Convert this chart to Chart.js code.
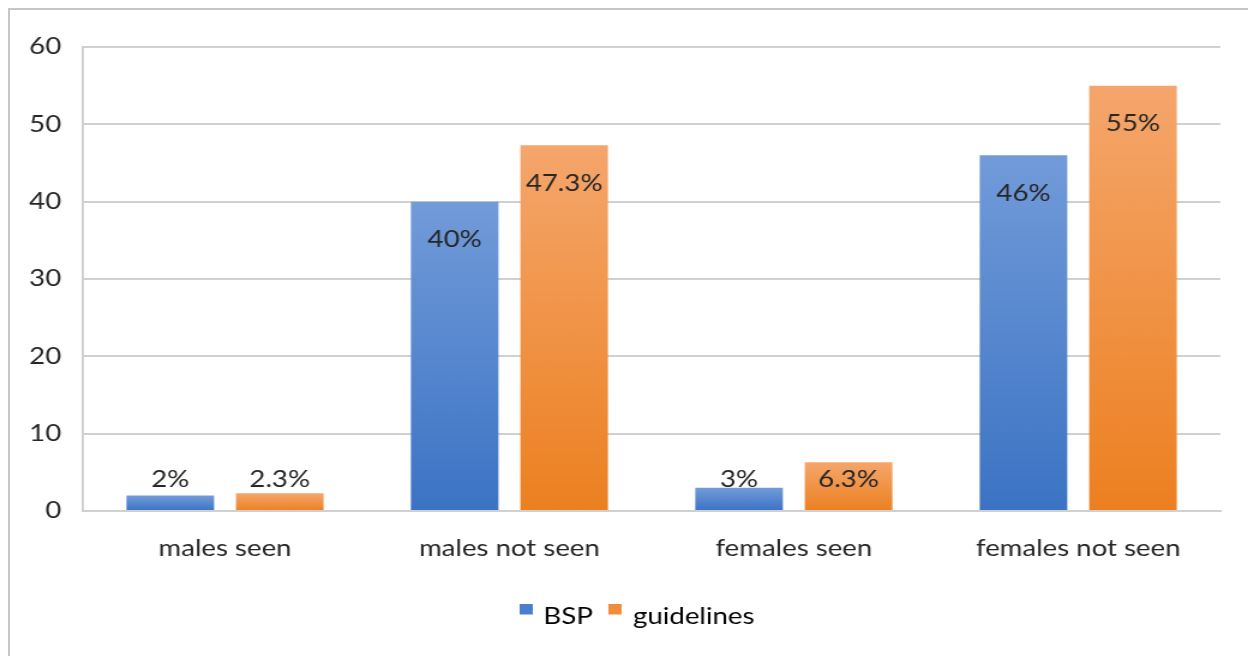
<!DOCTYPE html>
<html>
<head>
<meta charset="utf-8">
<title>BSP vs guidelines</title>
<script src="https://cdn.jsdelivr.net/npm/chart.js@4.4.1/dist/chart.umd.min.js"></script>
<style>
    html, body {
        margin: 0;
        padding: 0;
        background: #ffffff;
        overflow: hidden;
    }
    #wrap {
        position: relative;
        width: 1248px;
        height: 656px;
    }
    /* chart frame: only the top and left edges are inside the view */
    #frame {
        position: absolute;
        left: 8px;
        top: 8px;
        width: 1260px;
        height: 660px;
        border-left: 2px solid #c6c6c6;
        border-top: 2px solid #c6c6c6;
        box-sizing: border-box;
    }
    /* the chart is laid out at 1040px and widened to 1248px */
    #chart {
        position: absolute;
        left: 0;
        top: 0;
        transform-origin: 0 0;
        transform: scaleX(1.2);
    }
</style>
</head>
<body>
<div id="wrap">
    <div id="frame"></div>
    <canvas id="chart" width="1040" height="656"></canvas>
</div>
<script>
    // ===== DATA =====
    const categories = ['males seen', 'males not seen', 'females seen', 'females not seen'];
    const bspValues = [2, 40, 3, 46];
    const guidelineValues = [2.3, 47.3, 6.3, 55];
    const yTicks = [0, 10, 20, 30, 40, 50, 60];

    const FONT = 'Lato, "Open Sans", sans-serif';
    const TEXT = '#262626';

    // vertical gradient for each bar, light at the top, deep at the base
    function barGradient(light, dark) {
        return function(context) {
            const chart = context.chart;
            if (!chart.chartArea || context.raw == null) return dark;
            const y = chart.scales.y;
            const top = y.getPixelForValue(context.raw);
            const base = y.getPixelForValue(0);
            if (base - top < 1) return dark;
            const g = chart.ctx.createLinearGradient(0, top, 0, base);
            g.addColorStop(0, light);
            g.addColorStop(1, dark);
            return g;
        };
    }

    // legend marker: small square sitting high, level with the cap height
    function legendMarker(color) {
        const c = document.createElement('canvas');
        c.width = 11;
        c.height = 26;
        const g = c.getContext('2d');
        g.fillStyle = color;
        g.fillRect(0, 0, 11, 11);
        return c;
    }

    // value labels: inside the top of tall bars, pushed up over short ones
    const valueLabels = {
        id: 'valueLabels',
        afterDatasetsDraw(chart) {
            const ctx = chart.ctx;
            ctx.save();
            ctx.font = '23px ' + FONT;
            ctx.fillStyle = TEXT;
            ctx.textAlign = 'center';
            ctx.textBaseline = 'middle';
            chart.data.datasets.forEach((ds, i) => {
                const meta = chart.getDatasetMeta(i);
                meta.data.forEach((bar, j) => {
                    const y = Math.min(bar.y + 38, bar.base - 30);
                    ctx.fillText(ds.data[j] + '%', bar.x, y);
                });
            });
            ctx.restore();
        }
    };

    // nudge the legend a little left of the plot centre
    const legendShift = {
        id: 'legendShift',
        afterLayout(chart) {
            if (!chart.legend) return;
            chart.legend.left -= 11;
            chart.legend.right -= 11;
        }
    };

    new Chart(document.getElementById('chart'), {
        type: 'bar',
        data: {
            labels: categories,
            datasets: [{
                label: 'BSP',
                data: bspValues,
                backgroundColor: barGradient('#729bd9', '#3b73c4'),
                borderWidth: 0
            }, {
                label: 'guidelines',
                data: guidelineValues,
                backgroundColor: barGradient('#f5a66c', '#ec8020'),
                borderWidth: 0
            }]
        },
        options: {
            responsive: false,
            animation: false,
            categoryPercentage: 0.77,
            barPercentage: 0.8,
            layout: {
                padding: { top: 47, right: 23, left: 0, bottom: 18 }
            },
            plugins: {
                legend: {
                    position: 'bottom',
                    fullSize: false,
                    labels: {
                        color: TEXT,
                        font: { family: FONT, size: 23 },
                        usePointStyle: true,
                        pointStyleWidth: 6,
                        boxHeight: 11,
                        padding: 16,
                        generateLabels(chart) {
                            return chart.data.datasets.map((ds, i) => ({
                                text: ds.label,
                                fillStyle: i === 0 ? '#4a7fcf' : '#f28c3a',
                                strokeStyle: 'rgba(0,0,0,0)',
                                lineWidth: 0,
                                pointStyle: legendMarker(i === 0 ? '#4a7fcf' : '#f28c3a'),
                                datasetIndex: i
                            }));
                        }
                    }
                },
                tooltip: { enabled: false }
            },
            scales: {
                x: {
                    grid: { display: false, drawTicks: false },
                    border: { display: true, color: '#d0d0d0', width: 2 },
                    ticks: {
                        color: TEXT,
                        font: { family: FONT, size: 23 },
                        padding: 24
                    },
                    afterFit(scale) {
                        scale.height = 78;
                    }
                },
                y: {
                    min: 0,
                    max: 60,
                    afterBuildTicks(scale) {
                        scale.ticks = yTicks.map(v => ({ value: v }));
                    },
                    grid: {
                        color: '#d0d0d0',
                        lineWidth: 2,
                        drawTicks: false
                    },
                    border: { display: true, color: '#d0d0d0', width: 2 },
                    ticks: {
                        color: TEXT,
                        font: { family: FONT, size: 23 },
                        padding: 18
                    },
                    afterFit(scale) {
                        scale.width = 69;
                    }
                }
            }
        },
        plugins: [valueLabels, legendShift]
    });
</script>
</body>
</html>
